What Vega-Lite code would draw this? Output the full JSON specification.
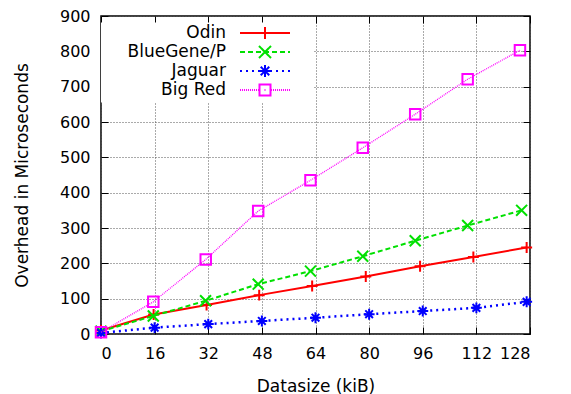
{
  "$schema": "https://vega.github.io/schema/vega-lite/v6.json",
  "width": 429,
  "height": 318,
  "autosize": {"type": "none"},
  "padding": {"left": 101, "top": 16, "right": 41, "bottom": 60},
  "background": "white",
  "config": {
    "font": "DejaVu Sans",
    "view": {"stroke": "black", "strokeWidth": 1.5},
    "axis": {
      "domain": false,
      "labelFont": "DejaVu Sans",
      "labelFontSize": 16,
      "labelColor": "black",
      "titleFont": "DejaVu Sans",
      "titleFontSize": 17,
      "titleFontWeight": "normal",
      "titleColor": "black",
      "gridColor": "#555555",
      "gridDash": [1, 2],
      "gridOpacity": 1,
      "gridWidth": 1,
      "tickColor": "black",
      "tickWidth": 1
    }
  },
  "data": {
    "values": [
      {"series": "Odin", "x": 0, "y": 10},
      {"series": "Odin", "x": 15.7, "y": 55},
      {"series": "Odin", "x": 31.5, "y": 82},
      {"series": "Odin", "x": 47.2, "y": 110},
      {"series": "Odin", "x": 63, "y": 136},
      {"series": "Odin", "x": 79, "y": 163},
      {"series": "Odin", "x": 95.2, "y": 192},
      {"series": "Odin", "x": 111.1, "y": 218},
      {"series": "Odin", "x": 127, "y": 245},
      {"series": "BlueGene/P", "x": 0, "y": 8},
      {"series": "BlueGene/P", "x": 15.6, "y": 51},
      {"series": "BlueGene/P", "x": 31.2, "y": 94},
      {"series": "BlueGene/P", "x": 46.9, "y": 141},
      {"series": "BlueGene/P", "x": 62.5, "y": 178},
      {"series": "BlueGene/P", "x": 78.1, "y": 220},
      {"series": "BlueGene/P", "x": 93.75, "y": 264},
      {"series": "BlueGene/P", "x": 109.4, "y": 307},
      {"series": "BlueGene/P", "x": 125.5, "y": 350},
      {"series": "Jaguar", "x": 0, "y": 3},
      {"series": "Jaguar", "x": 16, "y": 18},
      {"series": "Jaguar", "x": 32, "y": 28},
      {"series": "Jaguar", "x": 48, "y": 37},
      {"series": "Jaguar", "x": 64, "y": 46},
      {"series": "Jaguar", "x": 80, "y": 56},
      {"series": "Jaguar", "x": 96, "y": 65},
      {"series": "Jaguar", "x": 112, "y": 74},
      {"series": "Jaguar", "x": 127, "y": 91},
      {"series": "Big Red", "x": 0, "y": 5},
      {"series": "Big Red", "x": 15.6, "y": 91},
      {"series": "Big Red", "x": 31.25, "y": 211},
      {"series": "Big Red", "x": 46.9, "y": 348},
      {"series": "Big Red", "x": 62.5, "y": 435},
      {"series": "Big Red", "x": 78.1, "y": 527},
      {"series": "Big Red", "x": 93.75, "y": 622},
      {"series": "Big Red", "x": 109.4, "y": 721},
      {"series": "Big Red", "x": 125, "y": 803}
    ]
  },
  "layer": [
    {
      "transform": [{"filter": "datum.series === 'Odin'"}],
      "mark": {"type": "line", "strokeWidth": 2},
      "encoding": {
        "x": {
          "field": "x", "type": "quantitative",
          "scale": {"domain": [0, 128], "nice": false},
          "axis": {"orient": "bottom", "values": [0, 16, 32, 48, 64, 80, 96, 112, 128], "title": "Datasize (kiB)", "grid": true, "ticks": true, "tickSize": -7, "labelPadding": 18, "titlePadding": 17}
        },
        "y": {
          "field": "y", "type": "quantitative",
          "scale": {"domain": [0, 900], "nice": false},
          "axis": {"orient": "left", "values": [0, 100, 200, 300, 400, 500, 600, 700, 800, 900], "title": "Overhead in Microseconds", "grid": true, "ticks": true, "tickSize": -7, "labelPadding": 18, "titlePadding": 28}
        },
        "color": {
          "field": "series", "type": "nominal",
          "scale": {"domain": ["Odin", "BlueGene/P", "Jaguar", "Big Red"], "range": ["#ff0000", "#00e000", "#0000ff", "#ff00ff"]},
          "legend": {
            "orient": "none", "legendX": 0, "legendY": 6.5, "title": null,
            "padding": 2, "fillColor": "white", "strokeColor": null,
            "labelFont": "DejaVu Sans", "labelFontSize": 17, "labelColor": "black",
            "labelAlign": "right", "labelOffset": -47.5, "symbolOffset": 153.5, "rowPadding": -3,
            "encode": {
              "symbols": {
                "update": {
                  "shape": {"signal": "datum.value === 'Odin' ? 'M-3.57,0H3.57M0,-0.86V0.86M6.14,0' : datum.value === 'BlueGene/P' ? 'M-3.57,0H-2.86M-2.43,0H-1.71M-1.29,0H-0.57M-0.14,0H0.57M1,0H1.71M2.14,0H2.86M3.29,0H3.57M-0.86,-0.86L0.86,0.86M-0.86,0.86L0.86,-0.86M6.14,0' : datum.value === 'Jaguar' ? 'M-3.57,0H-3.29M-2.71,0H-2.43M-1.86,0H-1.57M-1,0H-0.71M-0.14,0H0.14M0.71,0H1M1.57,0H1.86M2.43,0H2.71M3.29,0H3.57M-0.86,0H0.86M0,-0.86V0.86M-0.61,-0.61L0.61,0.61M-0.61,0.61L0.61,-0.61M6.14,0' : 'M-3.571,0h0.143M-3.286,0h0.143M-3,0h0.143M-2.714,0h0.143M-2.429,0h0.143M-2.143,0h0.143M-1.857,0h0.143M-1.571,0h0.143M-1.286,0h0.143M-1,0h0.143M0.857,0h0.143M1.143,0h0.143M1.429,0h0.143M1.714,0h0.143M2,0h0.143M2.286,0h0.143M2.571,0h0.143M2.857,0h0.143M3.143,0h0.143M3.429,0h0.143M-0.07,0h0.14M-0.786,-0.786H0.786V0.786H-0.786ZM6.14,0'"},
                  "size": {"value": 196},
                  "strokeWidth": {"value": 2},
                  "strokeDash": {"value": [1, 0]},
                  "fill": {"value": "transparent"},
                  "opacity": {"value": 1}
                }
              }
            }
          }
        }
      }
    },
    {
      "transform": [{"filter": "datum.series === 'Odin'"}],
      "mark": {"type": "point", "shape": "M-1,0H1M0,-1V1", "filled": false, "opacity": 1, "strokeWidth": 2, "size": 120},
      "encoding": {
        "x": {
          "field": "x", "type": "quantitative",
          "axis": {"orient": "top", "values": [0, 16, 32, 48, 64, 80, 96, 112, 128], "title": null, "labels": false, "grid": false, "ticks": true, "tickSize": -7}
        },
        "y": {
          "field": "y", "type": "quantitative",
          "axis": {"orient": "right", "values": [0, 100, 200, 300, 400, 500, 600, 700, 800, 900], "title": null, "labels": false, "grid": false, "ticks": true, "tickSize": -7}
        },
        "color": {"field": "series", "type": "nominal"}
      }
    },
    {
      "transform": [{"filter": "datum.series === 'BlueGene/P'"}],
      "mark": {"type": "line", "strokeWidth": 2, "strokeDash": [5, 3]},
      "encoding": {
        "x": {"field": "x", "type": "quantitative", "axis": null},
        "y": {"field": "y", "type": "quantitative", "axis": null},
        "color": {"field": "series", "type": "nominal"}
      }
    },
    {
      "transform": [{"filter": "datum.series === 'BlueGene/P'"}],
      "mark": {"type": "point", "shape": "M-1,-1L1,1M-1,1L1,-1", "filled": false, "opacity": 1, "strokeWidth": 2, "size": 120},
      "encoding": {
        "x": {"field": "x", "type": "quantitative", "axis": null},
        "y": {"field": "y", "type": "quantitative", "axis": null},
        "color": {"field": "series", "type": "nominal"}
      }
    },
    {
      "transform": [{"filter": "datum.series === 'Jaguar'"}],
      "mark": {"type": "line", "strokeWidth": 2.5, "strokeDash": [2, 4]},
      "encoding": {
        "x": {"field": "x", "type": "quantitative", "axis": null},
        "y": {"field": "y", "type": "quantitative", "axis": null},
        "color": {"field": "series", "type": "nominal"}
      }
    },
    {
      "transform": [{"filter": "datum.series === 'Jaguar'"}],
      "mark": {"type": "point", "shape": "M-1,0H1M0,-1V1M-0.7,-0.7L0.7,0.7M-0.7,0.7L0.7,-0.7", "filled": false, "opacity": 1, "strokeWidth": 2, "size": 120},
      "encoding": {
        "x": {"field": "x", "type": "quantitative", "axis": null},
        "y": {"field": "y", "type": "quantitative", "axis": null},
        "color": {"field": "series", "type": "nominal"}
      }
    },
    {
      "transform": [{"filter": "datum.series === 'Big Red'"}],
      "mark": {"type": "line", "strokeWidth": 1.3, "strokeDash": [1, 1]},
      "encoding": {
        "x": {"field": "x", "type": "quantitative", "axis": null},
        "y": {"field": "y", "type": "quantitative", "axis": null},
        "color": {"field": "series", "type": "nominal"}
      }
    },
    {
      "transform": [{"filter": "datum.series === 'Big Red'"}],
      "mark": {"type": "point", "shape": "M-1,-1H1V1H-1Z", "filled": false, "opacity": 1, "strokeWidth": 2, "size": 110},
      "encoding": {
        "x": {"field": "x", "type": "quantitative", "axis": null},
        "y": {"field": "y", "type": "quantitative", "axis": null},
        "color": {"field": "series", "type": "nominal"}
      }
    }
  ],
  "resolve": {"axis": {"x": "independent", "y": "independent"}}
}
